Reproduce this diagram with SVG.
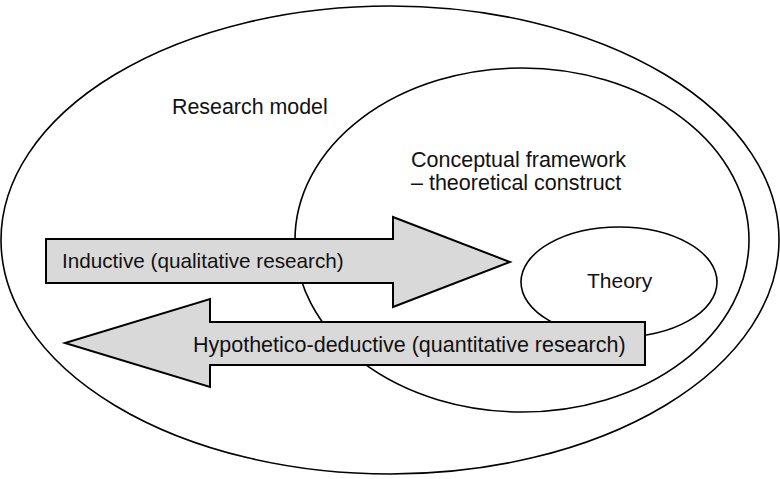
<svg xmlns="http://www.w3.org/2000/svg" width="780" height="479" viewBox="0 0 780 479">
<style>
.e{fill:none;stroke:#000;stroke-width:1.6}
.ew{fill:#fff;stroke:#000;stroke-width:1.6}
.a{fill:#d9d9d9;stroke:#000;stroke-width:2;stroke-linejoin:miter}
text{font-family:"Liberation Sans",Arial,sans-serif;font-size:21.5px;fill:#111}
</style>
<rect width="780" height="479" fill="#fff"/>
<g id="research-model">
<ellipse class="e" cx="390" cy="240" rx="389" ry="234"/>
<text x="172" y="114" style="font-size:21.4px">Research model</text>
</g>
<g id="conceptual-framework">
<ellipse class="e" cx="522" cy="240" rx="227" ry="172"/>
<text x="411" y="167">Conceptual framework</text>
<text x="411" y="190">– theoretical construct</text>
</g>
<g id="theory">
<ellipse class="ew" cx="619" cy="282" rx="98" ry="55"/>
<text x="587" y="288" style="font-size:21px">Theory</text>
</g>
<g id="connectors">
<g id="inductive">
<polygon class="a" points="46,239 393,239 393,217 510,262 393,307 393,283 46,283"/>
<text x="62" y="268" style="font-size:20.7px">Inductive (qualitative research)</text>
</g>
<g id="hypothetico-deductive">
<polygon class="a" points="645,322 210,322 210,299 65,343 210,387 210,365 645,365"/>
<text x="193" y="352">Hypothetico-deductive (quantitative research)</text>
</g>
</g>
</svg>
